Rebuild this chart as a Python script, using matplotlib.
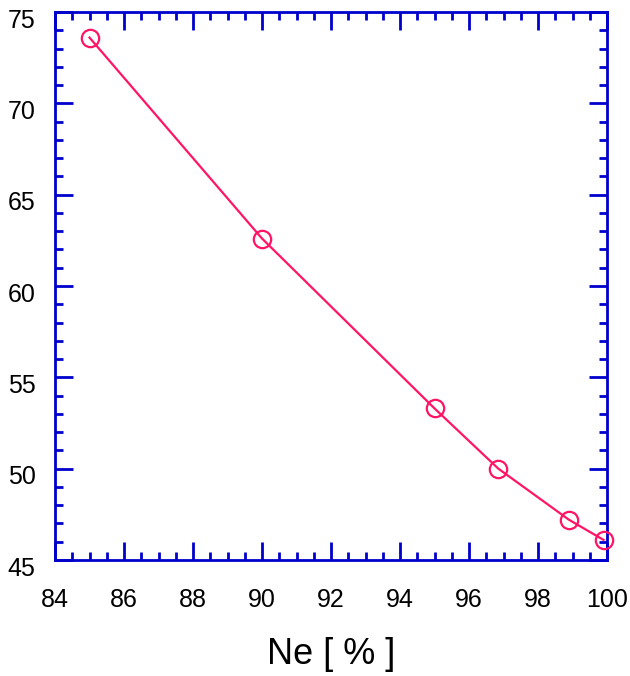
import matplotlib
matplotlib.use("Agg")
import matplotlib.pyplot as plt
import matplotlib.transforms as mtransforms
from matplotlib.ticker import MultipleLocator

plt.rcParams['font.family'] = ['Liberation Sans', 'DejaVu Sans']

ne_pct = [85, 90, 95, 96.85, 98.9, 99.9]
values = [73.6, 62.6, 53.3, 50.0, 47.2, 46.1]

blue = "#0000CC"
pink = "#FF1466"

fig = plt.figure(figsize=(6.3, 6.76), dpi=100)
ax = fig.add_axes([55/630, 1-560/676, 552/630, 548/676])

ax.plot(ne_pct, values, color=pink, linewidth=1.6, marker="o", markersize=12.5,
        markerfacecolor="none", markeredgecolor=pink, markeredgewidth=1.6,
        clip_on=False, zorder=3)

ax.set_xlim(84, 100)
ax.set_ylim(45, 75)
ax.xaxis.set_major_locator(MultipleLocator(2))
ax.xaxis.set_minor_locator(MultipleLocator(0.5))
ax.yaxis.set_major_locator(MultipleLocator(5))
ax.yaxis.set_minor_locator(MultipleLocator(1))

for s in ax.spines.values():
    s.set_color(blue)
    s.set_linewidth(2)

ax.tick_params(which="both", direction="in", top=True, right=True,
               color=blue, width=2, labelsize=18, labelcolor="black")
ax.tick_params(which="major", length=13)
ax.tick_params(which="minor", length=6)
ax.tick_params(axis="x", which="major", pad=20)
ax.tick_params(axis="y", which="major", pad=14)

# y labels sit a little below their ticks in the original
shift = mtransforms.ScaledTranslation(0, -6/100, fig.dpi_scale_trans)
for lab in ax.get_yticklabels():
    lab.set_transform(lab.get_transform() + shift)

ax.set_xlabel("Ne [ % ]", fontsize=26, labelpad=18)

fig.savefig("out.png", dpi=100)
